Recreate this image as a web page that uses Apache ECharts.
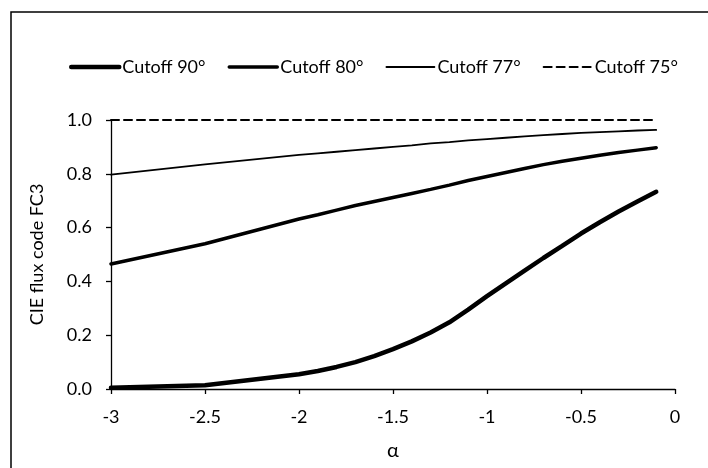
<!DOCTYPE html>
<html>
<head>
<meta charset="utf-8">
<script src="https://cdn.jsdelivr.net/npm/echarts@6/dist/echarts.min.js"></script>
<style>
html,body{margin:0;padding:0;background:#fff;}
#chart{width:708px;height:468px;}
</style>
</head>
<body>
<div id="chart"></div>
<script>
const seriesNames = ['Cutoff 90°', 'Cutoff 80°', 'Cutoff 77°', 'Cutoff 75°'];
const alpha = [-3, -2.5, -2, -1.9, -1.8, -1.7, -1.6, -1.5, -1.4, -1.3, -1.2, -1.1, -1.0, -0.9, -0.8, -0.7, -0.6, -0.5, -0.4, -0.3, -0.2, -0.1];
const cutoff90 = [0.005, 0.014, 0.055, 0.067, 0.082, 0.100, 0.122, 0.148, 0.177, 0.210, 0.248, 0.295, 0.345, 0.393, 0.440, 0.487, 0.532, 0.578, 0.620, 0.660, 0.697, 0.733];
const cutoff80 = [0.465, 0.540, 0.632, 0.648, 0.665, 0.682, 0.697, 0.712, 0.727, 0.742, 0.758, 0.775, 0.790, 0.805, 0.820, 0.834, 0.847, 0.858, 0.869, 0.879, 0.888, 0.897];
const cutoff77 = [0.797, 0.835, 0.870, 0.876, 0.882, 0.888, 0.894, 0.900, 0.906, 0.913, 0.918, 0.924, 0.929, 0.934, 0.939, 0.944, 0.948, 0.952, 0.955, 0.958, 0.961, 0.963];
const cutoff75 = [1, 1, 1, 1, 1, 1, 1, 1, 1, 1, 1, 1, 1, 1, 1, 1, 1, 1, 1, 1, 1, 1];
const yTicks = [0, 0.2, 0.4, 0.6, 0.8, 1.0];
const xTicks = [-3, -2.5, -2, -1.5, -1, -0.5, 0];

const FONT = 'Lato';
const values = [cutoff90, cutoff80, cutoff77, cutoff75];
const widths = [4.5, 3.5, 1.8, 2];
const types = ['solid', 'solid', 'solid', [8, 5]];

const chart = echarts.init(document.getElementById('chart'), null, {renderer: 'canvas'});
chart.setOption({
  animation: false,
  backgroundColor: '#fff',
  textStyle: {fontFamily: FONT, color: '#000'},
  graphic: [{
    type: 'polyline', shape: {points: [[11, 470], [11, 12], [710, 12]]},
    style: {fill: 'none', stroke: '#000', lineWidth: 1.5}, silent: true
  }],
  legend: {
    left: 64, top: 53,
    itemWidth: 48, itemHeight: 22, itemGap: 22,
    itemStyle: {opacity: 0},
    textStyle: {fontFamily: FONT, fontSize: 18, color: '#000', padding: [0, 0, 0, -2]},
    data: seriesNames.map((n, i) => ({
      name: n,
      itemStyle: {opacity: 0},
      lineStyle: {color: '#000', width: widths[i], type: types[i], opacity: 1}
    }))
  },
  grid: {left: 111, right: 33, top: 120, bottom: 79, containLabel: false, show: false},
  xAxis: {
    type: 'value', min: xTicks[0], max: xTicks[xTicks.length - 1], interval: 0.5,
    name: 'α', nameLocation: 'middle', nameGap: 52,
    nameTextStyle: {fontFamily: FONT, fontSize: 20, color: '#000'},
    axisLine: {show: true, onZero: false, lineStyle: {color: '#000', width: 1.3}},
    axisTick: {show: true, inside: false, length: 5, lineStyle: {color: '#000', width: 1.3}},
    axisLabel: {fontFamily: FONT, fontSize: 18, color: '#000', margin: 19,
      formatter: v => String(Math.round(v * 10) / 10)},
    splitLine: {show: false}
  },
  yAxis: {
    type: 'value', min: yTicks[0], max: yTicks[yTicks.length - 1], interval: 0.2,
    name: 'CIE flux code FC3', nameLocation: 'middle', nameGap: 65, nameRotate: 90,
    nameTextStyle: {fontFamily: FONT, fontSize: 18, color: '#000'},
    axisLine: {show: true, onZero: false, lineStyle: {color: '#000', width: 1.3}},
    axisTick: {show: true, inside: false, length: 5, lineStyle: {color: '#000', width: 1.3}},
    axisLabel: {fontFamily: FONT, fontSize: 18, color: '#000', margin: 19,
      formatter: v => v.toFixed(1)},
    splitLine: {show: false}
  },
  series: seriesNames.map((name, i) => ({
    name: name, type: 'line', symbol: 'none', smooth: false,
    data: alpha.map((a, j) => [a, values[i][j]]),
    lineStyle: {color: '#000', width: widths[i], type: types[i], cap: 'round'},
    itemStyle: {color: '#000'},
    z: 10 - i
  }))
});
</script>
</body>
</html>
